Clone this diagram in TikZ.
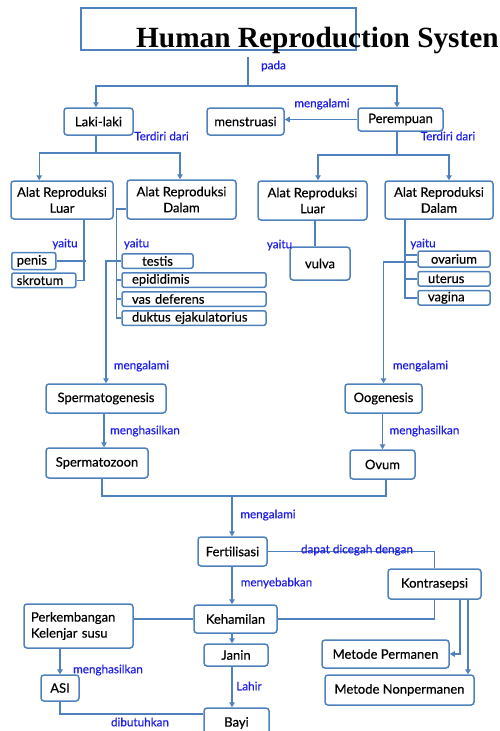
\documentclass[tikz,border=0pt]{standalone}
\usepackage{fontspec}
\setmainfont{Lato}[FakeBold=0.5]
\newfontfamily\titlefamily{Liberation Serif}
\usepackage{tikz}
\usetikzlibrary{arrows.meta, positioning, calc}
\definecolor{boxblue}{RGB}{79,129,189}
\definecolor{lblblue}{RGB}{30,30,235}

\begin{document}
\begin{tikzpicture}[x=1pt, y=-1pt,
      box/.style={rectangle, draw=boxblue, line width=1.5pt, rounded corners=3pt, align=center, font=\fontsize{13}{16}\selectfont, inner sep=2pt},
      item/.style={box, rounded corners=2pt, minimum height=14.5pt, inner ysep=0pt, align=left},
      lbl/.style={text=lblblue, font=\fontsize{11.7}{13}\selectfont, inner sep=0pt},
      conn/.style={draw=boxblue, line width=1.5pt},
      arr/.style={conn, -{Triangle[length=5pt, width=5.5pt]}}]
    \useasboundingbox (0,0) rectangle (499,731);
    % title
    \node[draw=boxblue, line width=1.6pt, minimum width=275pt, minimum height=42pt, inner sep=0pt] (tbox) at (218.5,29) {};
    \node[anchor=base west, font=\titlefamily\bfseries\fontsize{29.3}{30}\selectfont, inner sep=0pt] (title) at (136,47) {Human Reproduction Systen};
    % laki-laki / perempuan
    \node[box, minimum width=69pt, minimum height=27pt] (laki) at (98.5,121.5) {Laki-laki};
    \node[box, minimum width=77pt, minimum height=27pt] (mens) at (245.5,121.5) {menstruasi};
    \node[box, minimum width=85pt, minimum height=23pt] (perem) at (400.5,119.5) {Perempuan};
    \node[box, minimum width=102pt, minimum height=38pt] (arlM) at (62,200) {Alat Reproduksi\\Luar};
    \node[box, minimum width=109pt, minimum height=39pt] (ardM) at (181.5,199.5) {Alat Reproduksi\\Dalam};
    \node[box, minimum width=109pt, minimum height=39pt] (arlF) at (312.5,200.5) {Alat Reproduksi\\Luar};
    \node[box, minimum width=108pt, minimum height=38pt] (ardF) at (439,200) {Alat Reproduksi\\Dalam};
    % organs
    \node[item, anchor=west, text width=34pt, inner xsep=5pt, minimum height=17pt] (penis) at (11,261) {penis};
    \node[item, below=2pt of penis.south west, anchor=north west, text width=54pt, inner xsep=5pt] (skrot) {skrotum};
    \node[item, align=center, text width=61pt, inner xsep=5pt] (testis) at (157.5,261) {testis};
    \node[item, below=3pt of testis.south west, anchor=north west, text width=124pt, inner xsep=10pt] (epid) {epididimis};
    \node[item, below=3pt of epid.south west, anchor=north west, text width=124pt, inner xsep=10pt] (vas) {vas deferens};
    \node[item, below=3pt of vas.south west, anchor=north west, text width=124pt, inner xsep=10pt] (duk) {duktus ejakulatorius};
    \node[box, minimum width=60pt, minimum height=33pt] (vulva) at (320,263.5) {vulva};
    \node[item, align=center, text width=62pt, inner xsep=5pt, minimum height=16pt] (ovar) at (454,259) {ovarium};
    \node[item, below=3pt of ovar.south west, anchor=north west, text width=52pt, inner xsep=10pt] (uter) {uterus};
    \node[item, below=3pt of uter.south west, anchor=north west, text width=52pt, inner xsep=10pt] (vag) {vagina};
    % gametes
    \node[box, minimum width=120pt, minimum height=29pt] (sgen) at (106,398.5) {Spermatogenesis};
    \node[box, minimum width=102pt, minimum height=30pt] (szoon) at (97,463) {Spermatozoon};
    \node[box, minimum width=77pt, minimum height=29pt] (ogen) at (383.5,398.5) {Oogenesis};
    \node[box, minimum width=65pt, minimum height=29pt] (ovum) at (382.5,464.5) {Ovum};
    % fertilisasi and after
    \node[box, minimum width=69pt, minimum height=29pt] (fert) at (232.5,551.5) {Fertilisasi};
    \node[box, minimum width=83pt, minimum height=28pt] (keh) at (235.5,619) {Kehamilan};
    \node[box, minimum width=64pt, minimum height=22pt] (janin) at (236,655) {Janin};
    \node[box, minimum width=65pt, minimum height=30pt] (bayi) at (236.5,723) {Bayi};
    \node[box, minimum width=93pt, minimum height=30pt] (kontra) at (434.5,584) {Kontrasepsi};
    \node[box, minimum width=127pt, minimum height=28pt] (metP) at (385.5,654) {Metode Permanen};
    \node[box, minimum width=149pt, minimum height=30pt] (metN) at (399.5,690) {Metode Nonpermanen};
    \node[box, align=left, text width=95pt, inner xsep=7pt, minimum height=44pt] (pks) at (78.5,626) {Perkembangan\\Kelenjar susu};
    \node[box, minimum width=38pt, minimum height=26pt] (asi) at (60,688) {ASI};
    % connectors
    \coordinate (pd) at (248,57);
    \coordinate (pj) at (248,86);
    \coordinate (lj) at (96,153);
    \coordinate (pj2) at (397,155);
    \coordinate (fj) at (232,496);
    \draw[conn] (pd) -- (pj);
    \draw[arr] (pj) -| (laki.north -| lj);
    \draw[arr] (pj) -| (perem.north -| pj2);
    \draw[arr] (perem.west) -- (perem.west -| mens.east);
    \draw[conn] (laki.south -| lj) -- (lj);
    \draw[arr] (lj) -| ([xshift=29pt]arlM.north west);
    \draw[arr] (lj) -| ([xshift=-1.5pt]ardM.north);
    \draw[conn] (perem.south -| pj2) -- (pj2);
    \draw[arr] (pj2) -| ([xshift=5.5pt]arlF.north);
    \draw[arr] (pj2) -| ([xshift=10pt]ardF.north);
    \draw[conn] ([xshift=22pt]arlM.south) |- (skrot.east);
    \draw[conn] (penis.east) -- ++(29,0);
    \draw[conn] ([yshift=-9.5pt]ardM.west) -| ([xshift=-5pt]duk.west) -- (duk.west);
    \draw[conn] (epid.west) -- ++(-5,0);
    \draw[conn] (vas.west) -- ++(-5,0);
    \draw[arr] (testis.west) -| (sgen.north);
    \draw[arr] ([xshift=-2pt]sgen.south) -- ([xshift=-2pt]sgen.south |- szoon.north);
    \draw[conn] ([xshift=2.5pt]arlF.south) -- ([xshift=2.5pt]arlF.south |- vulva.north);
    \draw[conn] ([xshift=-34pt]ardF.south) |- (vag.west);
    \draw[conn] ([yshift=4pt]ovar.west) -- ++(-13,0);
    \draw[conn] (uter.west) -- ++(-13,0);
    \draw[arr] ([yshift=-3pt]ovar.west) -| (ogen.north);
    \draw[arr] ([xshift=-1pt]ogen.south) -- ([xshift=-1pt]ogen.south |- ovum.north);
    \draw[conn] ([xshift=5pt]szoon.south) |- (fj) -| ([xshift=3.5pt]ovum.south);
    \draw[arr] (fj) -- (fert.north -| fj);
    \draw[arr] (fert.south -| fj) -- (keh.north -| fj);
    \draw[arr] (keh.south -| fj) -- (janin.north -| fj);
    \draw[arr] (janin.south -| fj) -- (bayi.north -| fj);
    \draw[conn] (fert.east) -| (kontra.north);
    \draw[conn] (keh.east) -| (kontra.south);
    \draw[arr] ([xshift=25.5pt]kontra.south) |- (metP.east);
    \draw[arr] ([xshift=33.5pt]kontra.south) -- ([xshift=33.5pt]kontra.south |- metN.north);
    \draw[conn] (keh.west) -- (keh.west -| pks.east);
    \draw[arr] (pks.south -| asi) -- (asi.north);
    \draw[conn] (asi.south) |- ([yshift=9pt]bayi.west);
    % labels
    \node[lbl] (tpada) at (273.5,66) {pada};
    \node[lbl] (tmens) at (322,104) {mengalami};
    \node[lbl] (tdiriL) at (161.5,136) {Terdiri dari};
    \node[lbl] (tdiriR) at (448,136) {Terdiri dari};
    \node[lbl] (ya1) at (65,244) {yaitu};
    \node[lbl] (ya2) at (136.5,244) {yaitu};
    \node[lbl] (ya3) at (279.5,245) {yaitu};
    \node[lbl] (ya4) at (423,244) {yaitu};
    \node[lbl] (tsg) at (141.5,366) {mengalami};
    \node[lbl] (tsz) at (145,431) {menghasilkan};
    \node[lbl] (tog) at (420.5,366) {mengalami};
    \node[lbl] (tov) at (424.5,431) {menghasilkan};
    \node[lbl] (tfert) at (268,515) {mengalami};
    \node[lbl] (tkontra) at (357,550) {dapat dicegah dengan};
    \node[lbl] (tkeh) at (276.5,583) {menyebabkan};
    \node[lbl] (tlahir) at (249,686) {Lahir};
    \node[lbl] (tasi) at (108,670) {menghasilkan};
    \node[lbl] (tbutuh) at (140,722) {dibutuhkan};
  \end{tikzpicture}
\end{document}
